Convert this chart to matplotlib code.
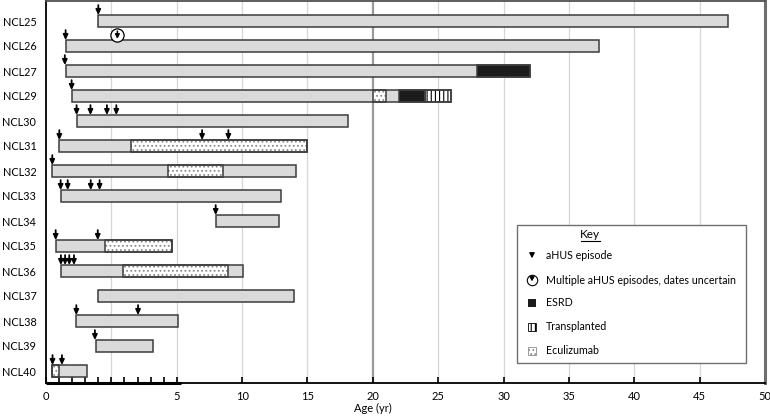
import numpy as np
import matplotlib
matplotlib.use("Agg")
import matplotlib.pyplot as plt
from matplotlib.patches import Rectangle, FancyArrowPatch
from matplotlib.lines import Line2D

plt.rcParams['font.family'] = ['Lato', 'DejaVu Sans']
plt.rcParams['hatch.linewidth'] = 0.8

# patient rows, top to bottom
patients = ['NCL25', 'NCL26', 'NCL27', 'NCL29', 'NCL30', 'NCL31', 'NCL32', 'NCL33',
            'NCL34', 'NCL35', 'NCL36', 'NCL37', 'NCL38', 'NCL39', 'NCL40']
start_age = [2.0, 0.75, 0.75, 1.0, 1.17, 0.51, 0.24, 0.56, 8.0, 0.37, 0.57, 2.0, 1.16, 1.91, 0.22]
end_age = [47.2, 37.3, 32.0, 26.0, 18.1, 15.0, 14.1, 12.95, 12.85, 4.82, 10.1, 14.0, 5.07, 4.08, 1.58]

# aHUS episodes (age in years)
episodes = [[2.0], [0.75], [0.72], [0.98], [1.17, 1.7, 2.33, 2.69], [0.51, 6.94, 8.95],
            [0.24], [0.56, 0.83, 1.71, 2.05], [7.98], [0.37, 1.98],
            [0.57, 0.73, 0.89, 1.07], [], [1.16, 3.52], [1.87], [0.25, 0.61]]
uncertain_episodes = {'NCL26': 2.73}

eculizumab = {'NCL29': (20.0, 21.0), 'NCL31': (3.24, 15.0), 'NCL32': (4.68, 8.52),
              'NCL35': (2.27, 4.82), 'NCL36': (2.96, 8.9), 'NCL40': (0.22, 0.5)}
esrd = {'NCL27': (28.0, 32.0), 'NCL29': (22.0, 24.0)}
transplanted = {'NCL29': (24.0, 26.0)}

x_ticks = [0, 5, 10, 15, 20, 25, 30, 35, 40, 45, 50]


def fwd(x):
    x = np.asarray(x, dtype=float)
    return np.where(x <= 5, 2 * x, x + 5)


def inv(u):
    u = np.asarray(u, dtype=float)
    return np.where(u <= 10, u / 2, u - 5)


W, H = 770, 416
fig = plt.figure(figsize=(W / 100, H / 100), dpi=100)
ax = fig.add_axes([46 / W, 1 - 383 / H, 719 / W, 382 / H])
ax.set_xscale('function', functions=(fwd, inv))
ax.set_xlim(0, 50)
ax.set_ylim(len(patients) - 1 + 0.48, -0.8)

# vertical grid lines
for g in [2.5, 5, 10, 15, 25, 30, 35, 40, 45]:
    ax.axvline(g, color='#d6d6d6', lw=0.9, zorder=0)
ax.axvline(20, color='#9a9a9a', lw=1.6, zorder=0)

bar_h = 0.47
edge = '#3c3c3c'


def segment(y, a, b, fc, hatch=None, hatch_col='black'):
    if hatch:
        ax.add_patch(Rectangle((a, y - bar_h / 2), b - a, bar_h, facecolor=fc,
                               edgecolor=hatch_col, hatch=hatch, lw=0, zorder=3))
    else:
        ax.add_patch(Rectangle((a, y - bar_h / 2), b - a, bar_h, facecolor=fc,
                               edgecolor='none', lw=0, zorder=3))
    ax.add_patch(Rectangle((a, y - bar_h / 2), b - a, bar_h, facecolor='none',
                           edgecolor=edge, lw=1.1, zorder=4))


def down_arrow(x, y_tip, length=0.4):
    ax.annotate('', xy=(x, y_tip), xytext=(x, y_tip - length),
                arrowprops=dict(arrowstyle='-|>,head_length=0.3,head_width=0.14',
                                color='black', lw=1.3, shrinkA=0, shrinkB=0),
                zorder=5)


for i, p in enumerate(patients):
    segment(i, start_age[i], end_age[i], '#dadada')
    if p in eculizumab:
        a, b = eculizumab[p]
        segment(i, a, b, 'white', hatch='....', hatch_col='#8a8a8a')
    if p in esrd:
        a, b = esrd[p]
        segment(i, a, b, '#1c1c1c')
    if p in transplanted:
        a, b = transplanted[p]
        segment(i, a, b, 'white', hatch='||||', hatch_col='black')
    for e in episodes[i]:
        down_arrow(e, i - bar_h / 2)
    if p in uncertain_episodes:
        xu = uncertain_episodes[p]
        yc = i - bar_h / 2 - 0.2
        ax.plot(xu, yc, marker='o', ms=9.5, mfc='white', mec='black', mew=0.9, zorder=5)
        ax.annotate('', xy=(xu, yc + 0.15), xytext=(xu, yc - 0.16),
                    arrowprops=dict(arrowstyle='-|>,head_length=0.25,head_width=0.13',
                                    color='black', lw=1.1, shrinkA=0, shrinkB=0),
                    zorder=6)

ax.set_yticks(range(len(patients)))
ax.set_yticklabels(patients)
ax.tick_params(axis='y', length=0, pad=7, labelsize=7.8)

ax.set_xticks(x_ticks)
ax.set_xticklabels([str(t) for t in x_ticks])
ax.set_xticks([0.5, 1, 1.5, 2, 2.5, 3, 3.5, 4, 4.5], minor=True)
ax.tick_params(axis='x', which='both', direction='in', length=4, width=1.2,
               labelsize=8, pad=6)

for s in ['left', 'bottom']:
    ax.spines[s].set_color('black')
    ax.spines[s].set_linewidth(1.3)
ax.spines['top'].set_color('#505050')
ax.spines['top'].set_linewidth(1.3)
ax.spines['right'].set_color('#6e6e6e')
ax.spines['right'].set_linewidth(2.2)
# heavier axis line under the expanded 0-5 section
ax.plot([0, 5.3], [0, 0], color='black', lw=2.2, transform=ax.get_xaxis_transform(),
        clip_on=False, zorder=6, solid_capstyle='butt')


# key box and axis title, placed in figure pixels
def fx(px):
    return px / W


def fy(py):
    return 1 - py / H


fig.text(fx(373), fy(408), 'Age (yr)', ha='center', va='center', fontsize=8)

tf = fig.transFigure
fig.add_artist(Rectangle((fx(517), fy(363)), fx(746) - fx(517), fy(224.5) - fy(363),
                         transform=tf, facecolor='white', edgecolor='#707070', lw=1.0,
                         zorder=10))
fig.text(fx(590), fy(234), 'Key', ha='center', va='center', fontsize=8.5, zorder=11)
fig.add_artist(Line2D([fx(581), fx(600)], [fy(241), fy(241)], transform=tf,
                      color='black', lw=0.8, zorder=11))

sx, tx_ = 532, 546
rows = [255.7, 280, 303, 327, 350.7]
labels = ['aHUS episode', 'Multiple aHUS episodes, dates uncertain', 'ESRD',
          'Transplanted', 'Eculizumab']
for yy, lab in zip(rows, labels):
    fig.text(fx(tx_), fy(yy), lab, ha='left', va='center', fontsize=7.7, zorder=11)

fig.add_artist(FancyArrowPatch(
    (fx(sx), fy(251)), (fx(sx), fy(261)), transform=tf,
    arrowstyle='-|>,head_length=3,head_width=1.6', color='black', lw=0.9,
    mutation_scale=1, zorder=11))
fig.add_artist(Line2D([fx(sx)], [fy(280)], transform=tf, marker='o', ms=7.5,
                      mfc='white', mec='black', mew=0.8, zorder=11))
fig.add_artist(FancyArrowPatch(
    (fx(sx), fy(276)), (fx(sx), fy(284)), transform=tf,
    arrowstyle='-|>,head_length=2.5,head_width=1.5', color='black', lw=0.8,
    mutation_scale=1, zorder=12))
sq = 8
fig.add_artist(Rectangle((fx(sx - sq / 2), fy(303 + sq / 2)), sq / W, sq / H,
                         transform=tf, facecolor='#1c1c1c', edgecolor='none', zorder=11))
fig.add_artist(Rectangle((fx(sx - sq / 2), fy(327 + sq / 2)), sq / W, sq / H,
                         transform=tf, facecolor='white', edgecolor='black',
                         hatch='||||', lw=0.6, zorder=11))
fig.add_artist(Rectangle((fx(sx - sq / 2), fy(350.7 + sq / 2)), sq / W, sq / H,
                         transform=tf, facecolor='white', edgecolor='#8a8a8a',
                         hatch='....', lw=0.6, zorder=11))

fig.savefig('out.png', dpi=100)
